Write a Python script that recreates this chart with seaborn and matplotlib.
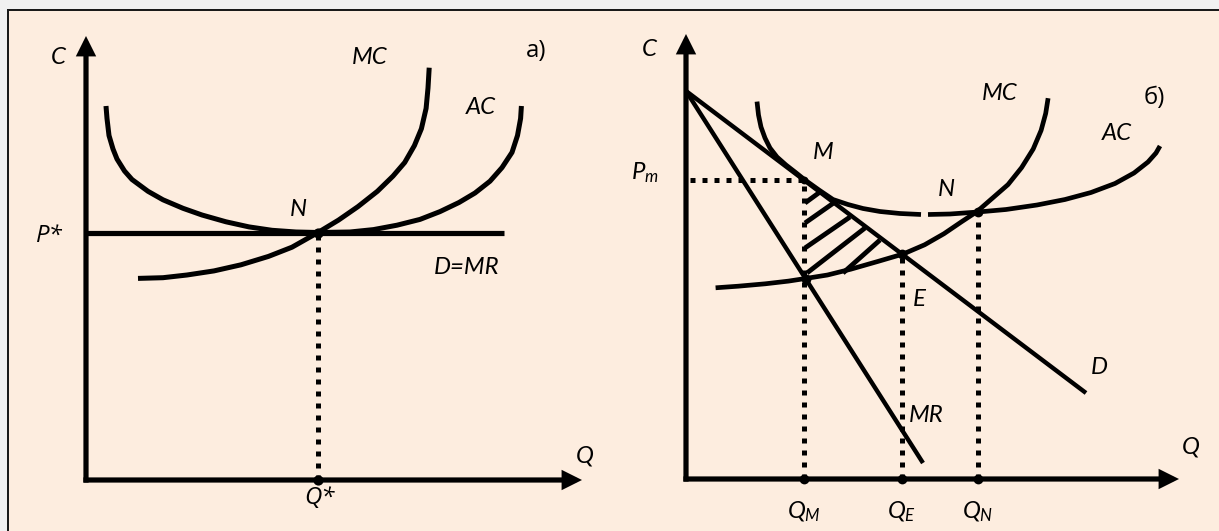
import numpy as np
import pandas as pd
import matplotlib
matplotlib.use("Agg")
import matplotlib.pyplot as plt
from matplotlib.patches import Rectangle
import seaborn as sns

# ---------------- data (panel a: perfect competition) ----------------
ac_a_q = [20, 21, 23, 27, 31, 38.5, 46, 62, 77, 97, 116, 140, 163, 186, 210, 232,
          264, 287.5, 311, 334, 354, 373, 389, 404, 416, 426, 431.5, 434.6, 435.4]
ac_a_c = [374, 361.5, 344.5, 331, 321, 309, 300.5, 288.7, 280.2, 271.7, 265, 258.2, 253.1,
          249.7, 248, 247.5, 248, 250.4, 254.8, 260.6, 268.4, 277.5, 287, 298.8, 312.4,
          327.6, 344.5, 361.5, 374]
mc_a_q = [52, 77, 101, 128, 155, 182.5, 206, 232, 252.5, 272, 291.4, 307, 318.7, 328.4,
          335.4, 340.1, 342, 343.2]
mc_a_c = [201.6, 202.3, 205, 209.1, 215.2, 223.6, 232.8, 247.5, 259.9, 273.4, 288.7, 303.9,
          317.5, 334.4, 351.3, 371.6, 392, 412.3]
dmr_a_q = [0, 418]
dmr_a_c = [247.5, 247.5]
q_star = 232
p_star = 247.5

# ---------------- data (panel б: monopoly) ----------------
d_b_q = [0, 400]
d_b_c = [388, 86]
mr_b_q = [0, 237]
mr_b_c = [388, 16]
ac_b_q1 = [71, 72.5, 75, 79, 84, 91, 100, 109, 119, 133, 147, 162, 177, 194, 214, 235]
ac_b_c1 = [377.4, 364, 352, 341, 331, 322, 314, 307, 299, 289, 279.5, 274.5, 270.5,
           267.5, 265.5, 264.5]
ac_b_q2 = [242, 264, 292, 320, 351, 379, 405, 429, 448, 462, 470, 474]
ac_b_c2 = [264.5, 265, 267, 269.5, 274, 279.5, 286.5, 295.5, 306, 317, 326, 333]
mc_b_q = [29.6, 52.2, 79.3, 102.6, 120.1, 141.5, 164.8, 192, 217.2, 238.6, 258, 275.5,
          291, 306.5, 322, 335.6, 347.2, 355.1, 359.7, 362.1]
mc_b_c = [191.2, 192.8, 195.2, 197.9, 200.6, 204, 209.8, 217.6, 225, 234.2, 245.3, 257.2,
          267.4, 280.9, 294.4, 311.4, 330, 348.6, 365.6, 380.8]
# hatch strokes (start q, start c, end q, end c)
hatch_q0 = [119, 119, 119, 121, 157]
hatch_c0 = [276, 256, 231, 206, 206]
hatch_q1 = [134, 149, 164, 179, 194]
hatch_c1 = [287, 277, 262, 251, 239]
q_m, q_e, q_n = 118, 216, 292
p_m = 299
c_e, c_n, c_mrmc = 225, 267, 200

# ---------------- style ----------------
sns.set_style("white")
plt.rcParams["font.family"] = ["Lato", "DejaVu Sans"]
plt.rcParams["text.color"] = "black"
plt.rcParams["mathtext.fontset"] = "custom"
plt.rcParams["mathtext.it"] = "Lato:italic"
plt.rcParams["mathtext.rm"] = "Lato"
plt.rcParams["lines.solid_capstyle"] = "butt"
plt.rcParams["lines.solid_joinstyle"] = "round"

DPI = 150
W, H = 1219, 531
PX = 72 / DPI  # points per pixel
fig = plt.figure(figsize=(W / DPI, H / DPI), dpi=DPI)
fig.patch.set_facecolor("#F1F1F1")

bg = fig.add_axes([0, 0, 1, 1], zorder=0)
bg.set_xlim(0, W)
bg.set_ylim(H, 0)
bg.axis("off")
bg.add_patch(Rectangle((8, 9.5), W + 20, H + 20, facecolor="#FDEDDF",
                       edgecolor="#1A1A1A", lw=2 * PX))


def panel(l0, l1, t0, b0, ox, oy):
    ax = fig.add_axes([l0 / W, 1 - b0 / H, (l1 - l0) / W, (b0 - t0) / H], zorder=1)
    ax.set_xlim(l0 - ox, l1 - ox)
    ax.set_ylim(oy - b0, oy - t0)
    ax.patch.set_alpha(0)
    ax.axis("off")
    return ax


LW_AX = 5.2 * PX
LW_CURVE = 4.7 * PX
LW_LINE = 4.4 * PX
DOT_LS = (0, (1, 1.4))
LW_DOT = 5 * PX
FS = 11.5
TXT = dict(fontsize=FS, fontstyle="italic", ha="center", va="center", color="black")
STAR = dict(fontsize=FS, fontstyle="italic", ha="center", va="center", color="black",
            family=["Open Sans", "DejaVu Sans"])


def axes_arrows(ax, xtip, ytip):
    ap = dict(arrowstyle="-|>", lw=LW_AX, color="black", shrinkA=0, shrinkB=0,
              mutation_scale=14.4, capstyle="butt", joinstyle="miter")
    ax.annotate("", xy=(0, ytip), xytext=(0, -2.6), arrowprops=ap)
    ax.annotate("", xy=(xtip, 0), xytext=(-2.6, 0), arrowprops=ap)


def curve(ax, q, c, lw):
    sns.lineplot(x=q, y=c, ax=ax, color="black", lw=lw, sort=False, estimator=None)


def dotted(ax, q, c):
    sns.lineplot(x=q, y=c, ax=ax, color="black", lw=LW_DOT, linestyle=DOT_LS,
                 sort=False, estimator=None)


# ---------------- panel a ----------------
axa = panel(10, 605, 12, 529, 86, 480)
axes_arrows(axa, 496, 444)
curve(axa, ac_a_q, ac_a_c, 5 * PX)
curve(axa, mc_a_q, mc_a_c, 5 * PX)
curve(axa, dmr_a_q, dmr_a_c, LW_AX)
dotted(axa, [q_star, q_star], [0, p_star])
sns.scatterplot(x=[q_star, q_star], y=[p_star, 0], ax=axa, color="black",
                s=24, linewidth=0, zorder=5)
axa.text(-28, 422, "C", **TXT)
axa.text(284, 422, "MC", **TXT)
axa.text(450, 429, "а)", fontsize=FS, ha="center", va="center", color="black",
         family=["Open Sans", "DejaVu Sans"])
axa.text(395, 372, "AC", **TXT)
axa.text(212, 270, "N", **TXT)
axa.text(-37, 244, "P*", **STAR)
axa.text(381, 212, "D=MR", **TXT)
axa.text(233, -18, "Q*", **STAR)
axa.text(499, 24, "Q", **TXT)

# ---------------- panel б ----------------
axb = panel(605, 1217, 12, 529, 686, 479)
axes_arrows(axb, 493, 445)
hatch = pd.DataFrame({
    "q": hatch_q0 + hatch_q1,
    "c": hatch_c0 + hatch_c1,
    "seg": list(range(len(hatch_q0))) * 2,
})
sns.lineplot(data=hatch, x="q", y="c", units="seg", estimator=None, sort=False,
             ax=axb, color="black", lw=4.8 * PX)
curve(axb, d_b_q, d_b_c, LW_LINE)
curve(axb, mr_b_q, mr_b_c, LW_LINE)
curve(axb, ac_b_q1, ac_b_c1, LW_CURVE)
curve(axb, ac_b_q2, ac_b_c2, LW_CURVE)
curve(axb, mc_b_q, mc_b_c, LW_CURVE)
dotted(axb, [3.6, q_m], [p_m, p_m])
dotted(axb, [q_m, q_m], [0, p_m])
dotted(axb, [q_e, q_e], [0, c_e])
dotted(axb, [q_n, q_n], [0, c_n])
sns.scatterplot(x=[q_m, q_e, q_n, q_e, q_n, q_m + 2], y=[0, 0, 0, c_e, c_n, c_mrmc],
                ax=axb, color="black", s=22, linewidth=0, zorder=5)
sns.scatterplot(x=[q_m], y=[p_m], ax=axb, color="black", s=14, linewidth=0, zorder=5)
axb.text(-37, 430, "C", **TXT)
axb.text(-41, 306, r"$P_m$", **TXT)
axb.text(137, 326.5, "M", **TXT)
axb.text(314, 386, "MC", **TXT)
axb.text(468, 381, "б)", fontsize=FS, ha="center", va="center", color="black",
         family=["Open Sans", "DejaVu Sans"])
axb.text(431, 345, "AC", **TXT)
axb.text(260, 290, "N", **TXT)
axb.text(233, 179, "E", **TXT)
axb.text(413, 111, "D", **TXT)
axb.text(240.5, 63, "MR", **TXT)
axb.text(504.6, 32, "Q", **TXT)
axb.text(q_m, -33, r"$Q_M$", **TXT)
axb.text(q_e, -33, r"$Q_E$", **TXT)
axb.text(q_n, -33, r"$Q_N$", **TXT)

fig.savefig("out.png", dpi=DPI, facecolor=fig.get_facecolor())
